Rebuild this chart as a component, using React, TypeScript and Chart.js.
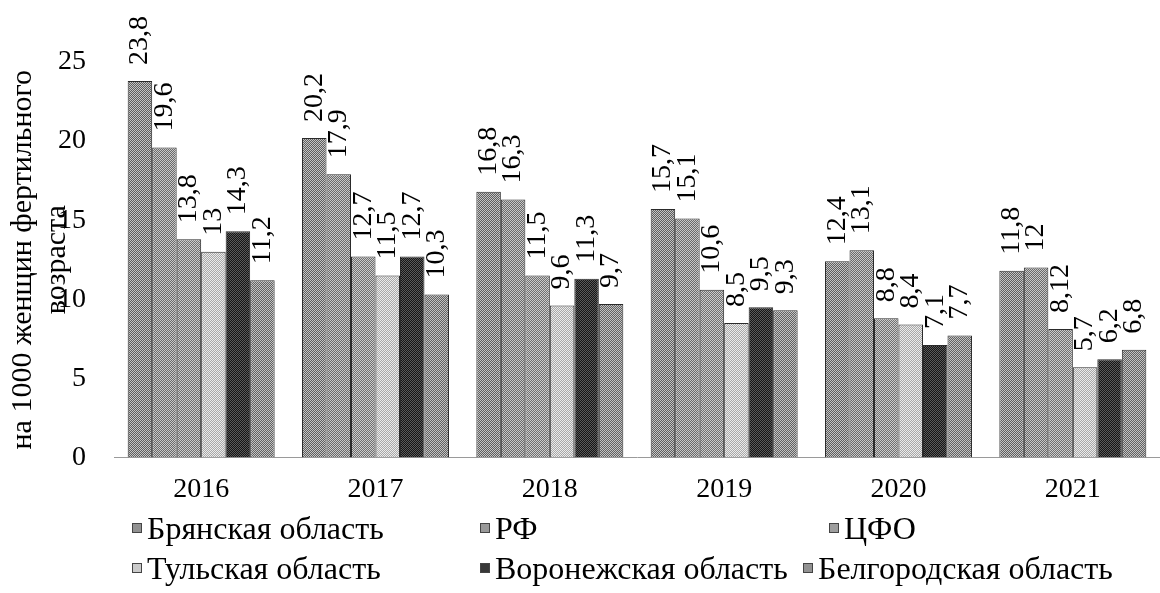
import React, { useEffect, useRef } from 'react';
import { Chart, registerables } from 'chart.js';

Chart.register(...registerables);

const years = ['2016', '2017', '2018', '2019', '2020', '2021'];
const seriesNames = [
  'Брянская область',
  'РФ',
  'ЦФО',
  'Тульская область',
  'Воронежская область',
  'Белгородская область',
];
const bryansk = [23.8, 20.2, 16.8, 15.7, 12.4, 11.8];
const rf = [19.6, 17.9, 16.3, 15.1, 13.1, 12];
const cfo = [13.8, 12.7, 11.5, 10.6, 8.8, 8.12];
const tula = [13, 11.5, 9.6, 8.5, 8.4, 5.7];
const voronezh = [14.3, 12.7, 11.3, 9.5, 7.1, 6.2];
const belgorod = [11.2, 10.3, 9.7, 9.3, 7.7, 6.8];
const yTicks = [0, 5, 10, 15, 20, 25];
const yTitle = ['на 1000 женщин фертильного', 'возраста'];

const FONT = "'Liberation Serif', 'Times New Roman', Times, 'DejaVu Serif', serif";

// style: [dark, light, average]
const tones: [string, string, string][] = [
  ['#5e5e5e', '#c4c4c4', '#919191'],
  ['#6a6a6a', '#c8c8c8', '#999999'],
  ['#707070', '#cccccc', '#9e9e9e'],
  ['#a8a8a8', '#ebebeb', '#cacaca'],
  ['#151515', '#5a5a5a', '#383838'],
  ['#626262', '#c2c2c2', '#929292'],
];

// legend layout [left of box, center y]
const legendPos: [number, number][] = [
  [132, 528],
  [480, 528],
  [829, 528],
  [132, 568],
  [480, 568],
  [803, 568],
];

function makePattern(dark: string, light: string): CanvasPattern | string {
  const c = document.createElement('canvas');
  c.width = 4;
  c.height = 4;
  const g = c.getContext('2d');
  if (!g) return dark;
  g.fillStyle = light;
  g.fillRect(0, 0, 4, 4);
  g.fillStyle = dark;
  for (let i = 0; i < 4; i++) {
    g.fillRect(i, 3 - i, 1, 1);
    g.fillRect((i + 2) % 4, 3 - i, 1, 1);
  }
  return g.createPattern(c, 'repeat') || dark;
}

const valueLabels = {
  id: 'valueLabels',
  afterDatasetsDraw(chart: any) {
    const ctx = chart.ctx as CanvasRenderingContext2D;
    ctx.save();
    ctx.font = `28px ${FONT}`;
    ctx.fillStyle = '#000';
    ctx.textAlign = 'left';
    ctx.textBaseline = 'middle';
    chart.data.datasets.forEach((ds: any, i: number) => {
      const meta = chart.getDatasetMeta(i);
      meta.data.forEach((bar: any, j: number) => {
        const v = ds.data[j];
        ctx.save();
        ctx.translate(bar.x, bar.y - 16);
        ctx.rotate(-Math.PI / 2);
        ctx.fillText(String(v).replace('.', ','), 0, 0);
        ctx.restore();
      });
    });
    ctx.restore();
  },
};

export default function App() {
  const ref = useRef<HTMLCanvasElement | null>(null);

  useEffect(() => {
    if (!ref.current) return;
    const all = [bryansk, rf, cfo, tula, voronezh, belgorod];
    const chart = new Chart(ref.current, {
      type: 'bar',
      data: {
        labels: years,
        datasets: all.map((d, i) => ({
          label: seriesNames[i],
          data: d,
          backgroundColor: makePattern(tones[i][0], tones[i][1]) as any,
          borderColor: '#2a2a2a',
          borderWidth: 1,
          categoryPercentage: 0.843,
          barPercentage: 1,
        })),
      },
      options: {
        animation: false,
        responsive: false,
        devicePixelRatio: 1,
        layout: { padding: { top: 62, right: 0, bottom: 72, left: 0 } },
        plugins: { legend: { display: false }, tooltip: { enabled: false } },
        scales: {
          x: {
            grid: { display: false, drawTicks: false },
            border: { display: true, color: '#9a9a9a', dash: [2, 2], width: 1 },
            ticks: { color: '#000', font: { family: FONT, size: 28 }, padding: 15 },
          },
          y: {
            min: 0,
            max: 25,
            grid: { display: false, drawTicks: false },
            border: { display: false },
            afterBuildTicks: (s: any) => {
              s.ticks = yTicks.map((v) => ({ value: v }));
            },
            afterFit: (s: any) => {
              s.width = 114;
            },
            ticks: { color: '#000', font: { family: FONT, size: 28 }, padding: 28 },
            title: {
              display: true,
              text: yTitle,
              color: '#000',
              font: { family: FONT, size: 30, lineHeight: 34 / 30 },
              padding: { top: 6, bottom: -16 },
            },
          },
        },
      },
      plugins: [valueLabels],
    });
    return () => chart.destroy();
  }, []);

  return (
    <div style={{ position: 'absolute', left: 0, top: 0, width: 1160, height: 593, background: '#fff' }}>
      <canvas ref={ref} width={1160} height={593} style={{ position: 'absolute', left: 0, top: 0 }} />
      {seriesNames.map((n, i) => (
        <div
          key={n}
          style={{
            position: 'absolute',
            left: legendPos[i][0],
            top: legendPos[i][1] - 20,
            height: 40,
            display: 'flex',
            alignItems: 'center',
            whiteSpace: 'nowrap',
            fontFamily: FONT,
            fontSize: 32,
            color: '#000',
          }}
        >
          <span
            style={{
              display: 'inline-block',
              width: 10,
              height: 10,
              background: tones[i][2],
              border: '1px solid #444',
              boxSizing: 'border-box',
              marginRight: 5,
            }}
          />
          <span>{n}</span>
        </div>
      ))}
    </div>
  );
}
